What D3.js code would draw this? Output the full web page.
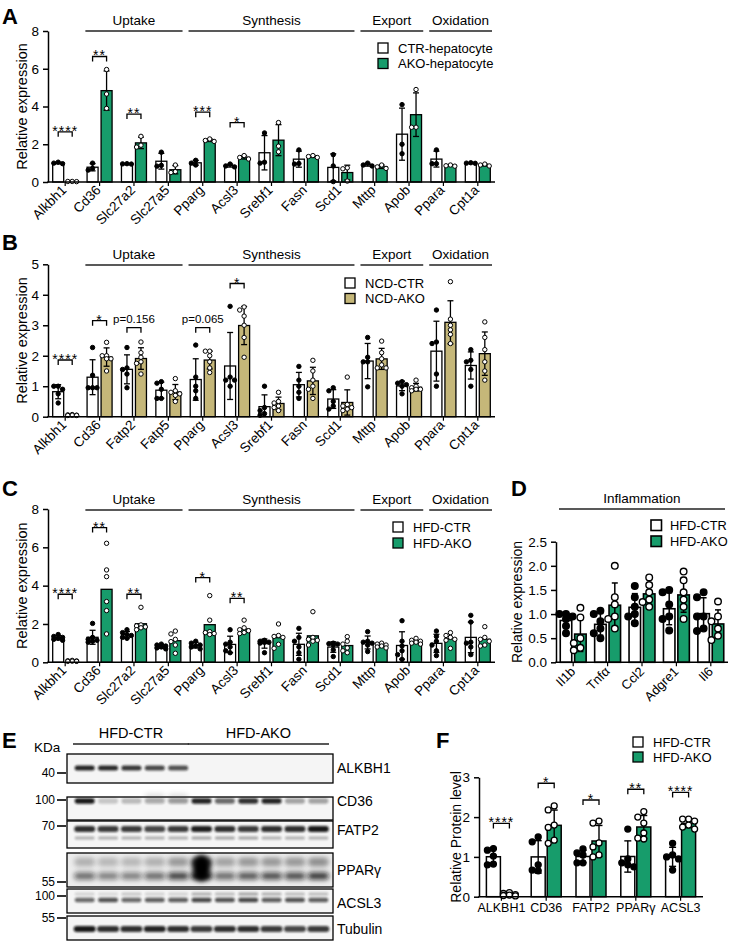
<!DOCTYPE html>
<html><head><meta charset="utf-8">
<script src="https://cdn.jsdelivr.net/npm/d3@7"></script>
<style>body{margin:0;background:#fff}svg{display:block;font-family:Arial,"Liberation Sans",sans-serif}</style>
</head><body><svg id="fig" width="731" height="947"></svg>
<script>
// ---------------- DATA ----------------
const GREEN = "#179c6b", TAN = "#c5b779";
// Panel A (hepatocytes, n=3)
const genesA = ["Alkbh1","Cd36","Slc27a2","Slc27a5","Pparg","Acsl3","Srebf1","Fasn","Scd1","Mttp","Apob","Ppara","Cpt1a"];
const ctrA = [[1.05,1.0,0.97],[1.0,0.72,0.63],[0.97,0.96,0.95],[1.58,0.88,0.84],[1.15,0.9,1.0],[0.95,0.85,0.8],[2.6,1.0,1.05],[1.7,0.98,0.95],[1.45,0.85,0.02],[1.0,0.9,0.85],[4.1,2.0,1.5],[1.7,0.97,0.97],[1.02,1.0,0.99]];
const akoA = [[0.03,0.02,0.03],[5.96,4.66,3.9],[2.42,1.85,1.95],[0.9,0.55,0.5],[2.28,2.2,2.15],[1.4,1.3,1.22],[3.15,1.9,1.6],[1.4,1.35,1.3],[0.75,0.7,0.05],[0.9,0.8,0.72],[4.9,2.9,2.9],[0.9,0.86,0.84],[0.95,0.9,0.85]];
const sigA = [["Alkbh1","****",2.66],["Cd36","**",6.65],["Slc27a2","**",3.6],["Pparg","***",3.7],["Acsl3","*",3.15]];
// Panel B (NCD)
const genesB = ["Alkbh1","Cd36","Fatp2","Fatp5","Pparg","Acsl3","Srebf1","Fasn","Scd1","Mttp","Apob","Ppara","Cpt1a"];
const ctrB = [[1.0,1.0,0.9,0.75,0.45],[2.27,1.36,0.95,0.95,0.95],[2.27,1.6,1.55,1.4,0.95],[1.15,1.1,0.9,0.6,0.6],[2.35,1.3,1.0,0.85,0.6],[3.62,1.3,1.2,1.2,1.0],[1.0,0.3,0.2,0.1,0.05],[1.65,1.2,1.0,0.8,0.6],[0.95,0.85,0.5,0.35,0.25],[2.6,1.95,1.8,1.8,0.98],[1.15,1.1,1.05,1.0,0.75],[3.5,2.45,2.4,1.4,1.0],[2.2,1.85,1.8,1.55,1.0]];
const akoB = [[0.07,0.06,0.05,0.05,0.04,0.04],[2.44,2.0,2.0,1.9,1.9,1.5],[2.45,2.1,1.95,1.8,1.75,1.4],[1.25,0.85,0.8,0.75,0.7,0.5],[2.15,2.15,2.0,1.8,1.6,1.45],[3.6,3.5,3.3,3.0,2.6,1.95],[0.8,0.5,0.45,0.35,0.3,0.2],[1.85,1.5,1.2,1.0,0.9,0.6],[1.3,0.4,0.35,0.3,0.25,0.2],[2.48,2.1,1.9,1.7,1.6,1.6],[1.2,1.0,0.95,0.9,0.9,0.85],[4.43,3.2,3.0,2.85,2.7,2.4],[3.11,2.6,2.2,1.8,1.5,1.2]];
const sigB = [["Alkbh1","****",1.86],["Cd36","*",3.15],["Fatp2","p=0.156",2.92],["Pparg","p=0.065",2.92],["Acsl3","*",4.37]];
// Panel C (HFD)
const genesC = genesA;
const ctrC = [[1.45,1.35,1.3,1.25,1.2,1.15],[2.03,1.3,1.2,1.15,1.1,1.05],[1.7,1.55,1.45,1.4,1.3,1.25],[0.95,0.9,0.85,0.8,0.75,0.7],[1.1,1.0,0.9,0.85,0.8,0.7],[1.7,1.05,0.95,0.8,0.6,0.5],[1.15,1.1,1.05,1.05,1.0,0.5],[1.77,1.3,1.1,0.8,0.5,0.16],[1.0,0.97,0.95,0.9,0.65,0.3],[1.6,1.1,1.05,1.0,0.9,0.56],[2.17,1.1,0.85,0.6,0.4,0.15],[1.63,1.35,1.1,0.9,0.6,0.35],[2.45,2.1,1.05,1.0,0.8,0.4]];
const akoC = [[0.1,0.08,0.07,0.06,0.05,0.05],[6.21,4.82,4.47,3.17,2.7,1.48],[2.87,1.95,1.9,1.85,1.8,1.7],[1.63,1.48,1.2,1.08,0.9,0.47],[3.48,2.2,1.6,1.5,1.55,1.45],[2.2,1.8,1.7,1.65,1.55,1.5],[2.0,1.4,1.35,1.3,0.94,0.73],[2.64,1.3,1.2,1.15,1.1,0.9],[1.34,1.1,0.95,0.75,0.6,0.5],[1.0,0.95,0.9,0.85,0.8,0.75],[1.25,1.15,1.1,1.05,1.0,0.95],[1.55,1.4,1.3,1.2,1.15,0.73],[1.86,1.3,1.2,1.1,0.9,0.85]];
const sigC = [["Alkbh1","****",3.55],["Cd36","**",7.03],["Slc27a2","**",3.55],["Pparg","*",4.42],["Acsl3","**",3.34]];
// Panel D (inflammation)
const genesD = ["Il1b","Tnfα","Ccl2","Adgre1","Il6"];
const ctrD = [[1.0,1.0,0.95,0.9,0.75,0.6],[1.07,1.0,0.85,0.7,0.6,0.5],[1.58,1.35,1.15,1.0,0.95,0.81],[1.5,1.45,1.2,0.95,0.9,0.66],[1.45,1.35,0.95,0.95,0.7,0.65]];
const akoD = [[1.13,0.93,0.5,0.4,0.3,0.25],[2.0,1.35,1.2,0.95,0.9,0.7],[1.76,1.6,1.45,1.3,1.25,1.15],[1.88,1.7,1.45,1.3,1.15,0.9],[1.26,0.95,0.85,0.7,0.55,0.46]];
// Panel F (protein quantification)
const protF = ["ALKBH1","CD36","FATP2","PPARγ","ACSL3"];
const ctrF = [[1.21,1.17,1.02,0.82,0.8],[1.5,1.38,0.8,0.67,0.65],[1.2,1.1,1.05,0.85,0.85],[1.7,0.95,0.85,0.8,0.75],[1.34,1.05,1.0,0.95,0.67]];
const akoF = [[0.1,0.08,0.05,0.04,0.03,0.02],[2.28,2.18,1.8,1.74,1.42,1.34],[1.9,1.85,1.35,1.25,1.05,1.0],[2.14,2.0,1.85,1.6,1.45,1.47],[1.95,1.95,1.9,1.8,1.75,1.7]];
const sigF = [["ALKBH1","****",1.84],["CD36","*",2.85],["FATP2","*",2.43],["PPARγ","**",2.7],["ACSL3","****",2.62]];
// Panel E (western blot, band darkness per lane: 5 CTR + 6 AKO)
const laneGroups = ["HFD-CTR","HFD-AKO"];
const laneCounts = [5,6];
const blotRows = ["ALKBH1","CD36","FATP2","PPARγ","ACSL3","Tubulin"];
const blotMarkers = ["40","100","70","55","100","55"];
const alkbh1Band = [0.9,0.88,0.82,0.75,0.7,0,0,0,0,0,0];
const cd36Band = [0.95,0.2,0.25,0.28,0.35,0.9,0.6,0.85,0.9,0.35,0.35];
const fatp2Band = [0.85,0.8,0.8,0.75,0.8,0.92,0.85,0.8,0.85,0.85,0.95];
const fatp2Lower = [0.3,0.3,0.3,0.3,0.3,0.35,0.35,0.35,0.3,0.3,0.3];
const ppargUpper = [0.32,0.28,0.28,0.32,0.45,0.95,0.4,0.45,0.45,0.45,0.5];
const ppargLower = [0.6,0.5,0.5,0.6,0.8,1.0,0.6,0.7,0.75,0.75,0.85];
const acsl3Band = [0.6,0.7,0.6,0.65,0.65,0.75,0.7,0.75,0.65,0.7,0.65];
const acsl3Upper = [0.15,0.12,0.2,0.15,0.15,0.3,0.25,0.35,0.3,0.25,0.25];
const tubulinBand = [0.95,0.85,0.85,0.9,0.85,0.8,0.85,0.85,0.8,0.75,0.8];

// ---------------- DRAW ----------------
const svg = d3.select("#fig");
const defs = svg.append("defs");
defs.append("filter").attr("id","blur").attr("x","-50%").attr("y","-200%").attr("width","200%").attr("height","500%")
  .append("feGaussianBlur").attr("stdDeviation",1.3);
defs.append("filter").attr("id","blur2").attr("x","-50%").attr("y","-100%").attr("width","200%").attr("height","300%")
  .append("feGaussianBlur").attr("stdDeviation",2.6);

function letter(t,x,y){ svg.append("text").attr("x",x).attr("y",y).attr("font-size",22).attr("font-weight","bold").text(t); }

function swarm(vals, r, y, cx, maxHalf){
  const placed=[]; const step=r*2.0;
  const order=vals.map((v,i)=>({v,i})).sort((a,b)=>b.v-a.v);
  order.forEach(o=>{
    const py=y(o.v);
    const cands=[0,-step,step,-2*step,2*step].filter(c=>Math.abs(c)<=maxHalf+0.01);
    let best=null,bestOv=Infinity;
    for(const c of cands){
      let ov=0;
      placed.forEach(p=>{const d=Math.hypot(p.x-(cx+c),p.y-py); if(d<2*r*0.95) ov+= (2*r-d);});
      if(ov===0){best=c;break;}
      if(ov<bestOv){bestOv=ov;best=c;}
    }
    placed.push({x:cx+best,y:py,v:o.v});
  });
  return placed;
}

function barPanel(o){
  const g=svg.append("g");
  const y=d3.scaleLinear().domain([0,o.ymax]).range([o.y0,o.y1]);
  const x=d3.scaleBand().domain(o.cats).range([o.x0,o.x1]);
  const cxOf=c=>x(c)+x.bandwidth()/2;
  const series=[{vals:o.ctr,fill:"#fff",dfill:"#000",off:-o.off,err:true},{vals:o.ako,fill:o.color,dfill:"#fff",off:o.off,err:o.akoErr!==false}];
  series.forEach(s=>{
    o.cats.forEach((c,i)=>{
      const v=s.vals[i], m=d3.mean(v), sd=d3.deviation(v);
      const cx=cxOf(c)+s.off;
      g.append("rect").attr("x",cx-o.bw/2).attr("y",y(m)).attr("width",o.bw).attr("height",y(0)-y(m))
        .attr("fill",s.fill).attr("stroke","#000").attr("stroke-width",o.sw);
      if(s.err && sd>0.04){
        const lo=Math.max(0,m-sd), hi=m+sd, cw=o.cap;
        g.append("line").attr("x1",cx).attr("x2",cx).attr("y1",y(lo)).attr("y2",y(hi)).attr("stroke","#000").attr("stroke-width",o.ew);
        g.append("line").attr("x1",cx-cw/2).attr("x2",cx+cw/2).attr("y1",y(hi)).attr("y2",y(hi)).attr("stroke","#000").attr("stroke-width",o.ew);
        if(m-sd>0) g.append("line").attr("x1",cx-cw/2).attr("x2",cx+cw/2).attr("y1",y(lo)).attr("y2",y(lo)).attr("stroke","#000").attr("stroke-width",o.ew);
      }
      const pts=swarm(v,o.r,y,cx,o.bw/2+1);
      g.selectAll(null).data(pts).enter().append("circle").attr("cx",d=>d.x).attr("cy",d=>d.y).attr("r",o.r)
        .attr("fill",s.dfill).attr("stroke","#000").attr("stroke-width",o.dsw);
    });
  });
  // axes
  const ax=g.append("g").attr("transform",`translate(${o.x0},0)`)
    .call(d3.axisLeft(y).tickValues(o.ticks).tickSize(5).tickSizeOuter(0).tickFormat(o.fmt||d3.format("d")));
  ax.select(".domain").attr("stroke-width",1.5);
  ax.selectAll(".tick line").attr("stroke-width",1.5);
  ax.selectAll(".tick text").attr("font-size",o.tfs||13.5).attr("font-family","Arial, 'Liberation Sans', sans-serif").attr("fill","#000").attr("dx",-1);
  g.append("line").attr("x1",o.x0-0.75).attr("x2",o.x1).attr("y1",o.y0).attr("y2",o.y0).attr("stroke","#000").attr("stroke-width",1.5);
  o.cats.forEach(c=>{
    g.append("line").attr("x1",cxOf(c)).attr("x2",cxOf(c)).attr("y1",o.y0).attr("y2",o.y0+4).attr("stroke","#000").attr("stroke-width",1.2);
    if(o.rot){
      g.append("text").attr("transform",`translate(${cxOf(c)+o.lx},${o.y0+o.ly}) rotate(-45)`).attr("text-anchor","end")
        .attr("font-size",o.xfs).text(c);
    } else {
      g.append("text").attr("x",cxOf(c)).attr("y",o.y0+o.ly).attr("text-anchor","middle").attr("font-size",o.xfs).text(c);
    }
  });
  // y title
  g.append("text").attr("transform",`translate(${o.tx},${(o.y0+o.y1)/2+(o.tyo||0)}) rotate(-90)`).attr("text-anchor","middle")
    .attr("font-size",o.tfsz||14.5).text(o.title);
  // significance
  (o.sig||[]).forEach(([c,lab,val])=>{
    const x1=cxOf(c)-o.off, x2=cxOf(c)+o.off, yy=y(val);
    g.append("path").attr("d",`M${x1},${yy+5}V${yy}H${x2}V${yy+5}`).attr("fill","none").attr("stroke","#000").attr("stroke-width",1.3);
    const isP=lab.startsWith("p");
    g.append("text").attr("x",(x1+x2)/2).attr("y",isP?yy-5:yy+ (o.starDy||4)).attr("text-anchor","middle")
      .attr("font-size",isP?11.5:(o.sfs||14)).attr("letter-spacing",isP?0:1).attr("fill","#000").text(lab);
  });
  // headers
  (o.headers||[]).forEach(([lab,from,to])=>{
    const hx1=x(from)+3, hx2=x(to)+x.bandwidth()-3;
    g.append("line").attr("x1",hx1).attr("x2",hx2).attr("y1",o.hy).attr("y2",o.hy).attr("stroke","#222").attr("stroke-width",1.4);
    g.append("text").attr("x",(hx1+hx2)/2).attr("y",o.hy-6).attr("text-anchor","middle").attr("font-size",13.5).text(lab);
  });
  // legend
  if(o.legend){
    o.legend.forEach((lab,i)=>{
      const ly=o.legY+i*o.legStep;
      g.append("rect").attr("x",o.legX).attr("y",ly).attr("width",o.legS).attr("height",o.legS)
        .attr("fill",i===0?"#fff":o.color).attr("stroke","#000").attr("stroke-width",o.legSw||1.3);
      g.append("text").attr("x",o.legX+o.legS+o.legGap).attr("y",ly+o.legS-0.5).attr("font-size",o.legFs||13).text(lab);
    });
  }
  return {x,y};
}

const headersA=[["Uptake","Cd36","Slc27a5"],["Synthesis","Pparg","Scd1"],["Export","Mttp","Apob"],["Oxidation","Ppara","Cpt1a"]];
const headersB=[["Uptake","Cd36","Fatp5"],["Synthesis","Pparg","Scd1"],["Export","Mttp","Apob"],["Oxidation","Ppara","Cpt1a"]];
const common={x0:48,x1:495,off:7,bw:11,sw:1.3,ew:1.3,cap:6,r:2.2,dsw:1.0,rot:true,lx:2,ly:9,xfs:13.5,tx:27,title:"Relative expression"};

letter("A",2,24);
barPanel({...common,cats:genesA,ctr:ctrA,ako:akoA,color:GREEN,ymax:8,y0:182,y1:31,ticks:[0,2,4,6,8],sig:sigA,headers:headersA,hy:31,
  legend:["CTR-hepatocyte","AKO-hepatocyte"],legX:378,legY:43,legStep:15.5,legS:10,legGap:10});
letter("B",2,250);
barPanel({...common,cats:genesB,ctr:ctrB,ako:akoB,color:TAN,ymax:5,y0:416.7,y1:264.3,ticks:[0,1,2,3,4,5],sig:sigB,headers:headersB,hy:265,
  legend:["NCD-CTR","NCD-AKO"],legX:345,legY:278,legStep:15.5,legS:10,legGap:10});
letter("C",2,496);
barPanel({...common,cats:genesC,ctr:ctrC,ako:akoC,color:GREEN,akoErr:false,ymax:8,y0:662.3,y1:509,ticks:[0,2,4,6,8],sig:sigC,headers:headersA,hy:510,
  legend:["HFD-CTR","HFD-AKO"],legX:393,legY:522,legStep:16,legS:10,legGap:10});
letter("D",511,496);
barPanel({cats:genesD,ctr:ctrD,ako:akoD,color:GREEN,x0:556,x1:728,off:7.2,bw:11.5,sw:1.6,ew:1.5,cap:6,r:3.3,dsw:1.4,rot:true,lx:3,ly:10,xfs:13,
  ymax:2.5,y0:662.3,y1:541.7,ticks:[0,0.5,1,1.5,2,2.5],fmt:d3.format(".1f"),tx:522,tfsz:14,title:"Relative expression",
  headers:[["Inflammation","Il1b","Il6"]],hy:509,
  legend:["HFD-CTR","HFD-AKO"],legX:651,legY:520,legStep:16,legS:10.5,legGap:8.5,legSw:1.6,legFs:12.8});
letter("F",436,748);
barPanel({cats:protF,ctr:ctrF,ako:akoF,color:GREEN,x0:479,x1:703,off:8,bw:14,sw:1.5,ew:1.4,cap:7,r:3.0,dsw:1.3,rot:false,ly:15,xfs:12.5,
  ymax:3,y0:896.7,y1:777.3,ticks:[0,1,2,3],tx:461,tfsz:14,title:"Relative Protein level",sig:sigF,
  legend:["HFD-CTR","HFD-AKO"],legX:633,legY:737,legStep:15,legS:10,legGap:10,legFs:13});

// ---------------- Panel E: western blot ----------------
letter("E",2,748);
const nL=d3.sum(laneCounts);
const laneX=d3.scaleBand().domain(d3.range(nL)).range([73,330]);
const lc=i=>laneX(i)+laneX.bandwidth()/2;
const eg=svg.append("g");
let start=0;
laneGroups.forEach((lab,gi)=>{
  const a=start, b=start+laneCounts[gi]-1;
  const x1=laneX(a)+(gi===0?0:-2), x2=laneX(b)+laneX.bandwidth()-1;
  eg.append("line").attr("x1",x1).attr("x2",x2).attr("y1",744).attr("y2",744).attr("stroke","#222").attr("stroke-width",1.3);
  eg.append("text").attr("x",(x1+x2)/2).attr("y",738).attr("text-anchor","middle").attr("font-size",14.5).text(lab);
  start+=laneCounts[gi];
});
eg.append("text").attr("x",34).attr("y",752).attr("font-size",13.5).text("KDa");
const rowTop=[754,797,821,853,889,916], rowBot=[783,820,848,887,913,940];
const markerY=[773,800,826,882,896,918];
const labelY=[768,801,830,870,903,929];
blotRows.forEach((p,ri)=>{
  eg.append("rect").attr("x",67).attr("y",rowTop[ri]).attr("width",266).attr("height",rowBot[ri]-rowTop[ri])
    .attr("fill",ri===3?"#ececec":"#f5f5f5").attr("stroke","#000").attr("stroke-width",1.3);
  eg.append("text").attr("x",337).attr("y",labelY[ri]+5).attr("font-size",14).text(p);
  eg.append("text").attr("x",55).attr("y",markerY[ri]+4.2).attr("text-anchor","end").attr("font-size",12).text(blotMarkers[ri]);
  eg.append("line").attr("x1",57).attr("x2",66).attr("y1",markerY[ri]).attr("y2",markerY[ri]).attr("stroke","#000").attr("stroke-width",1.6);
});
function bands(arr,cy,h,w,filt,col){
  arr.forEach((v,i)=>{ if(v<=0) return;
    eg.append("rect").attr("x",lc(i)-w/2).attr("y",cy-h/2).attr("width",w).attr("height",h).attr("rx",h/2)
      .attr("fill",col||"#111").attr("opacity",v).attr("filter",`url(#${filt||"blur"})`);
  });
}
bands(alkbh1Band,768,5,20);
bands(cd36Band.map((v,i)=>i===3||i===4?0.18:0),797,7,20,"blur2","#555");
bands(cd36Band,801,5.5,20);
bands(fatp2Band,829,6,21);
bands(fatp2Lower,838,3,20);
bands(ppargUpper,862,9,21,"blur2","#333");
bands(ppargLower,876,7,21,"blur2","#111");
bands(ppargLower.map((v,i)=>i===5?1:0),868,26,18,"blur2","#000");
bands(acsl3Upper,894,3,20);
bands(acsl3Band,900,4.5,20);
bands(tubulinBand,929,6,22);
</script></body></html>
